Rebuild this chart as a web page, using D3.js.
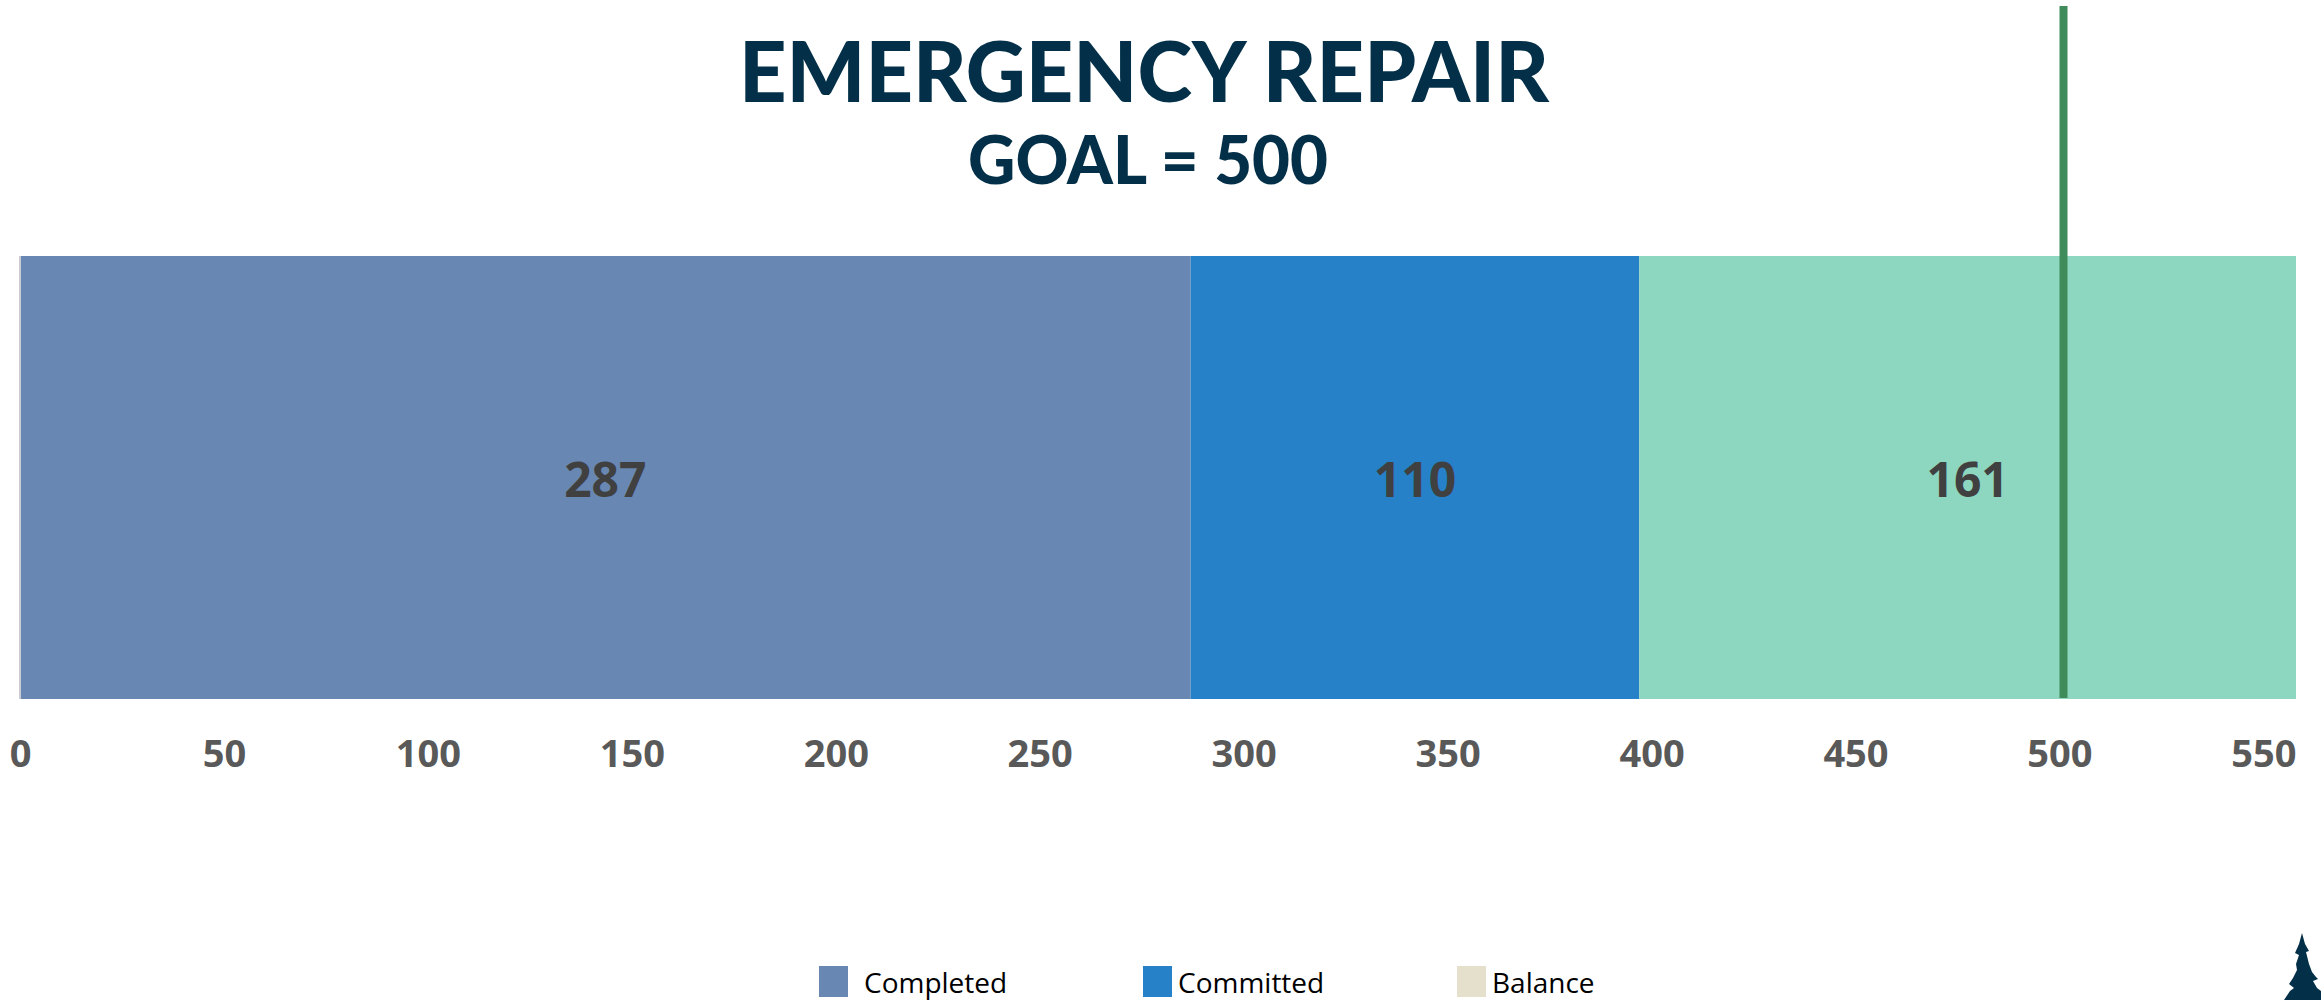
<!DOCTYPE html>
<html>
<head>
<meta charset="utf-8">
<script src="https://cdn.jsdelivr.net/npm/d3@7"></script>
<style>
  html, body { margin: 0; padding: 0; background: #fff; overflow: hidden; }
  .tick-label { font-family: "Open Sans", sans-serif; font-weight: 700; font-size: 38px; fill: #595959; }
  .bar-label { font-family: "Open Sans", sans-serif; font-weight: 700; font-size: 48px; fill: #404040; }
  .legend-label { font-family: "Open Sans", sans-serif; font-size: 28px; fill: #000; }
  .title { font-family: Lato, sans-serif; font-weight: 900; fill: #033048; }
</style>
</head>
<body>
<div id="chart"></div>
<script>
const seriesNames = ["Completed", "Committed", "Balance"];
const seriesValues = [287, 110, 161];
const barColors = ["#6887B3", "#2681C8", "#8DD6BF"];
const legendColors = ["#6887B3", "#2681C8", "#E5E0CC"];
const tickValues = [0, 50, 100, 150, 200, 250, 300, 350, 400, 450, 500, 550];
const goalLine = 501;

const width = 2321, height = 1000;
const svg = d3.select("#chart").append("svg")
    .attr("width", width)
    .attr("height", height)
    .style("display", "block");

// stack the three segments end to end
let total = 0;
const stacked = seriesValues.map((v, i) => {
  const d = {name: seriesNames[i], value: v, start: total, end: total + v};
  total += v;
  return d;
});

const x = d3.scaleLinear().domain([0, total]).range([20, 2296]);
const y = d3.scaleBand().domain(["Emergency Repair"]).range([256, 699]);

// Bars
svg.selectAll("rect.bar")
    .data(stacked)
    .enter()
    .append("rect")
      .attr("class", "bar")
      .attr("x", d => x(d.start))
      .attr("y", y("Emergency Repair"))
      .attr("width", d => x(d.end) - x(d.start))
      .attr("height", y.bandwidth())
      .style("fill", (d, i) => barColors[i]);

// Category axis line
svg.append("line")
    .attr("x1", x(0)).attr("x2", x(0))
    .attr("y1", 256).attr("y2", 699)
    .style("stroke", "#C9CDD3")
    .style("stroke-width", 2);

// Bar labels
svg.selectAll("text.bar-label")
    .data(stacked)
    .enter()
    .append("text")
      .attr("class", "bar-label")
      .attr("x", d => x((d.start + d.end) / 2))
      .attr("y", 497)
      .attr("text-anchor", "middle")
      .text(d => d.value);

// Goal line
svg.append("line")
    .attr("x1", x(goalLine)).attr("x2", x(goalLine))
    .attr("y1", 6).attr("y2", 698)
    .style("stroke", "#3F8C5A")
    .style("stroke-width", 8);

// X axis
const axis = svg.append("g")
    .attr("transform", "translate(0,699)")
    .call(d3.axisBottom(x).tickValues(tickValues).tickSize(0).tickPadding(41));
axis.select(".domain").remove();
axis.selectAll("text")
    .attr("class", "tick-label")
    .attr("fill", null);

// Title
svg.append("text")
    .attr("class", "title")
    .attr("x", 1144).attr("y", 102)
    .attr("text-anchor", "middle")
    .attr("textLength", 810)
    .attr("lengthAdjust", "spacingAndGlyphs")
    .style("font-size", "84px")
    .text("EMERGENCY REPAIR");
svg.append("text")
    .attr("class", "title")
    .attr("x", 1148).attr("y", 184)
    .attr("text-anchor", "middle")
    .attr("textLength", 360)
    .attr("lengthAdjust", "spacingAndGlyphs")
    .style("font-size", "66px")
    .text("GOAL = 500");

// Legend
const legendX = [819, 1143, 1457];
const legendTextX = [864, 1178, 1492];
const legend = svg.selectAll("g.legend")
    .data(seriesNames)
    .enter()
    .append("g")
      .attr("class", "legend");
legend.append("rect")
    .attr("x", (d, i) => legendX[i])
    .attr("y", 966)
    .attr("width", 29)
    .attr("height", 31)
    .style("fill", (d, i) => legendColors[i]);
legend.append("text")
    .attr("class", "legend-label")
    .attr("x", (d, i) => legendTextX[i])
    .attr("y", 993)
    .text(d => d);

// Tree logo, bottom right corner
svg.append("path")
    .attr("d", "M2302,933 L2305,944 L2309,951 L2306,952 L2309,964 L2312,972 L2316,977 L2318,979 L2313,981 L2317,988 L2321,991 L2321,1000 L2284,1000 L2290,991 L2294,988 L2289,984 L2293,978 L2297,970 L2296,964 L2299,955 L2295,953 L2299,944 Z")
    .style("fill", "#033048");
</script>
</body>
</html>
